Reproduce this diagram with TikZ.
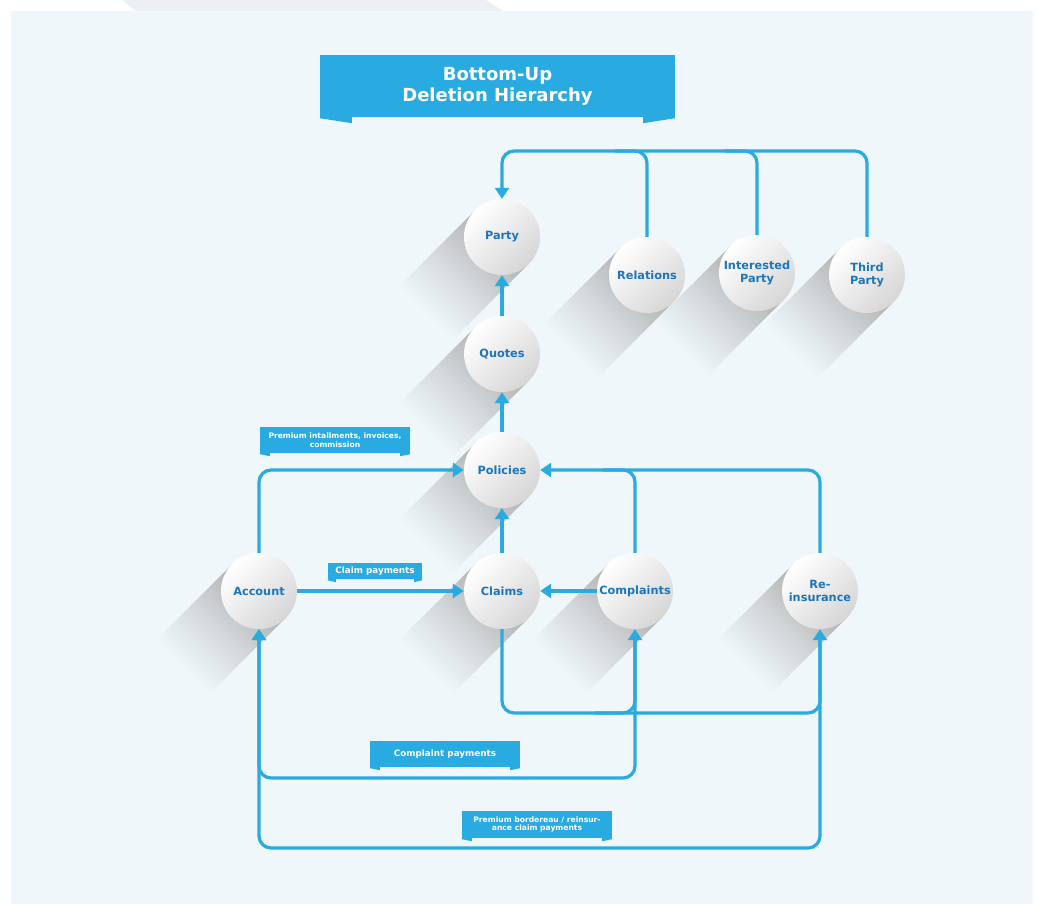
\documentclass[tikz,border=0pt]{standalone}
\usepackage{fontspec}
\setmainfont{DejaVu Sans}
\usetikzlibrary{arrows.meta}
\definecolor{bg}{RGB}{239,247,251}
\definecolor{lineblue}{RGB}{41,171,226}
\definecolor{txtblue}{RGB}{27,117,190}
\definecolor{shadowgray}{RGB}{175,175,175}
\definecolor{circgray}{RGB}{214,214,214}
\definecolor{faint}{RGB}{236,239,243}
\newcommand\longshadow[2]{%
  \begin{scope}[transform canvas={shift={(#1,#2)}, rotate=225}]
    \shade[left color=shadowgray, right color=bg, middle color=shadowgray!45!bg]
      (0,-38) rectangle (108,38);
  \end{scope}}
\newcommand\bannertabs[3]{%
  \fill[lineblue] (#1.south west) -- ++(0,1) -- ++(#2,#3-1) -- ++(0,-#3) -- cycle;
  \fill[lineblue] (#1.south east) -- ++(0,1) -- ++(-#2,#3-1) -- ++(0,-#3) -- cycle;}
\begin{document}
\begin{tikzpicture}[x=1pt,y=-1pt,
  conn/.style={draw=lineblue, line width=3.2pt, rounded corners=12pt},
  arr/.style={-{Triangle[width=14pt,length=11pt]}},
  bubble/.style={circle, minimum size=76pt, inner sep=0pt, align=center, text=txtblue,
    font=\fontsize{11.3}{13}\selectfont\bfseries,
    shading=axis, top color=white, bottom color=circgray, shading angle=45},
  banner/.style={fill=lineblue, text=white, inner sep=0pt, align=center},
  smallfont/.style={font=\fontsize{7.6}{8.7}\selectfont\bfseries},
  midfont/.style={font=\fontsize{8.8}{10}\selectfont\bfseries}
]
\useasboundingbox (0,0) rectangle (1037,904);
\fill[faint] (122,0) -- (486,0) -- (503,11) -- (136,11) -- cycle;
\fill[bg] (11,11) rectangle (1033,904);

% shadows
\longshadow{502}{237}
\longshadow{647}{275}
\longshadow{757}{273}
\longshadow{867}{275}
\longshadow{502}{354}
\longshadow{502}{470}
\longshadow{259}{591}
\longshadow{502}{591}
\longshadow{635}{591}
\longshadow{820}{591}

% circles
\node[bubble] (party) at (502,237) {Party};
\node[bubble] (rel) at (647,275) {Relations};
\node[bubble] (int) at (757,273) {Interested\\Party};
\node[bubble] (third) at (867,275) {Third\\Party};
\node[bubble] (quotes) at (502,354) {Quotes};
\node[bubble] (pol) at (502,470) {Policies};
\node[bubble] (acc) at (259,591) {Account};
\node[bubble] (claims) at (502,591) {Claims};
\node[bubble] (comp) at (635,591) {Complaints};
\node[bubble] (reins) at (820,591) {Re-\\insurance};

% helper coordinates
\coordinate (busT) at (0,151);
\coordinate (relJ) at (615,151);
\coordinate (intJ) at (725,151);
\coordinate (compJ) at (603,470);
\coordinate (bot1) at (0,713);
\coordinate (cj) at (595,713);
\coordinate (bot2) at (0,778);
\coordinate (bot3) at (0,848);

% connectors
\draw[conn, arr] (third.north) |- (busT -| party.north) -- (party.north);
\draw[conn] (rel.north) |- (relJ);
\draw[conn] (int.north) |- (intJ);
\draw[conn, arr] (quotes) -- (party);
\draw[conn, arr] (pol) -- (quotes);
\draw[conn, arr] (claims) -- (pol);
\draw[conn, arr] (acc.north) |- (pol.west);
\draw[conn, arr] (reins.north) |- (pol.east);
\draw[conn] (comp.north) |- (compJ);
\draw[conn, arr] (acc) -- (claims);
\draw[conn, arr] (comp) -- (claims);
\draw[conn, arr] (claims.south) |- (bot1 -| reins.south) -- (reins.south);
\draw[conn, arr] (cj) -| (comp.south);
\draw[conn, arr, shorten <=6pt] (comp.south) |- (bot2 -| acc.south) -- (acc.south);
\draw[conn, arr, shorten <=6pt] (reins.south) |- (bot3 -| acc.south) -- (acc.south);

% banners
\node[banner, minimum width=355pt, minimum height=62pt,
  font=\fontsize{18}{21}\selectfont\bfseries] (title) at (497.5,86) {Bottom-Up\\Deletion Hierarchy};
\bannertabs{title}{32}{6}
\node[banner, smallfont, minimum width=150pt, minimum height=26pt] (lprem) at (335,440)
  {Premium intallments, invoices,\\commission};
\bannertabs{lprem}{10}{3}
\node[banner, midfont, minimum width=94pt, minimum height=16pt] (lclaim) at (375,571) {Claim payments};
\bannertabs{lclaim}{8}{3}
\node[banner, midfont, minimum width=150pt, minimum height=26pt] (lcomp) at (445,754) {Complaint payments};
\bannertabs{lcomp}{10}{3}
\node[banner, smallfont, minimum width=150pt, minimum height=27pt] (lbord) at (537,824.5)
  {Premium bordereau / reinsur-\\ance claim payments};
\bannertabs{lbord}{10}{3}
\end{tikzpicture}
\end{document}
